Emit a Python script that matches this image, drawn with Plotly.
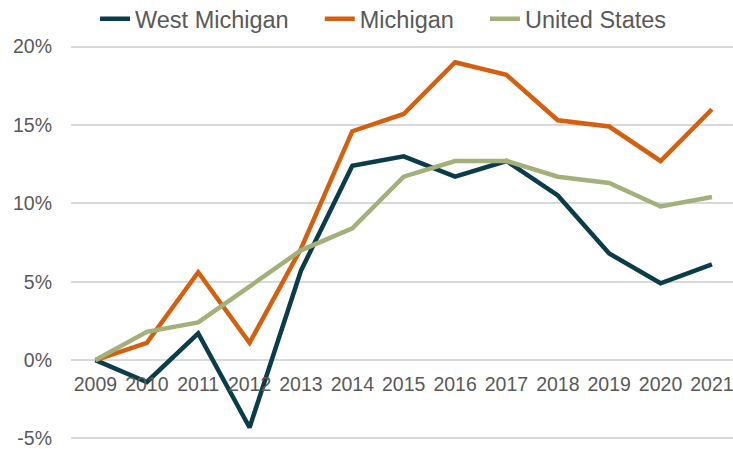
import plotly.graph_objects as go

years = list(range(2009, 2022))
west_michigan = [0, -1.4, 1.7, -4.3, 5.7, 12.4, 13.0, 11.7, 12.7, 10.5, 6.8, 4.9, 6.1]
michigan = [0, 1.1, 5.6, 1.1, 7.1, 14.6, 15.7, 19.0, 18.2, 15.3, 14.9, 12.7, 16.0]
united_states = [0, 1.8, 2.4, 4.7, 7.0, 8.4, 11.7, 12.7, 12.7, 11.7, 11.3, 9.8, 10.4]
y_ticks = [-5, 0, 5, 10, 15, 20]
y_labels = ["-5%", "0%", "5%", "10%", "15%", "20%"]

series = [
    ("West Michigan", west_michigan, "#0b3c4a"),
    ("Michigan", michigan, "#d4600f"),
    ("United States", united_states, "#a4b07a"),
]

pad = "\u00a0" * 4
fig = go.Figure()
for name, vals, color in series:
    fig.add_trace(go.Scatter(x=years, y=vals, name=name + pad, mode="lines",
                             line=dict(color=color, width=4.5)))

fam = "Liberation Sans, Arial, sans-serif"
tick_font = dict(family=fam, size=19.5, color="#595959")
legend_font = dict(family=fam, size=23.5, color="#595959")
y_min, y_max = -5.1, 20.1
fig.update_layout(
    width=733, height=449,
    margin=dict(l=71, r=0, t=44.5, b=8.5, autoexpand=False),
    paper_bgcolor="white", plot_bgcolor="white",
    font=tick_font,
    showlegend=True,
    legend=dict(orientation="h", xref="container", x=0.1296, xanchor="left",
                yref="container", y=0.958, yanchor="middle", font=legend_font,
                bgcolor="rgba(0,0,0,0)", borderwidth=0),
    xaxis=dict(range=[2008.524, 2021.41], tickmode="array", tickvals=years,
               ticktext=[str(y) for y in years], showgrid=False, zeroline=False,
               showline=False, anchor="free", position=(0 - y_min) / (y_max - y_min),
               ticks="", tickfont=tick_font, automargin=False, ticklabelstandoff=10,
               ticklabeloverflow="allow"),
    yaxis=dict(range=[y_min, y_max], tickmode="array", tickvals=y_ticks, ticktext=y_labels,
               showgrid=True, gridcolor="#d9d9d9", gridwidth=1.5, zeroline=False,
               showline=False, ticks="", tickfont=tick_font, ticklabelstandoff=18,
               automargin=False, ticklabeloverflow="allow"),
)
fig.write_html("out.html", config={"displayModeBar": False},
               post_script="document.body.style.margin='0px';document.body.style.overflow='hidden';")
